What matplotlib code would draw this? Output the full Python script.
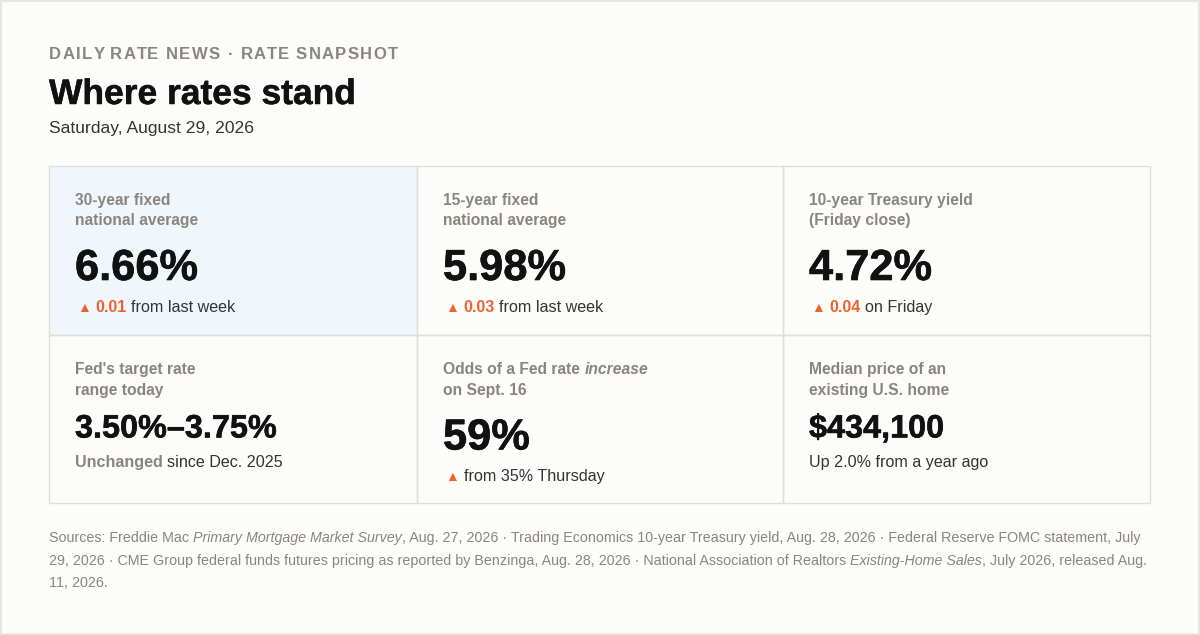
import matplotlib
matplotlib.use("Agg")
import matplotlib.pyplot as plt
from matplotlib.patches import Rectangle
import matplotlib.patheffects as pe

# ---------------- data ----------------
kicker = "DAILY RATE NEWS · RATE SNAPSHOT"
title = "Where rates stand"
date_str = "Saturday, August 29, 2026"

labels_line1 = ["30-year fixed", "15-year fixed", "10-year Treasury yield",
                "Fed's target rate", "Odds of a Fed rate |increase", "Median price of an"]
labels_line2 = ["national average", "national average", "(Friday close)",
                "range today", "on Sept. 16", "existing U.S. home"]
values = ["6.66%", "5.98%", "4.72%", "3.50%–3.75%", "59%", "$434,100"]
value_big = [True, True, True, False, True, False]
delta_arrow = [True, True, True, False, True, False]
delta_num = ["0.01", "0.03", "0.04", "Unchanged", "", ""]
delta_text = ["from last week", "from last week", "on Friday",
              "since Dec. 2025", "from 35% Thursday", "Up 2.0% from a year ago"]
highlight = [True, False, False, False, False, False]

sources_lines = [
    [("Sources: Freddie Mac ", "normal"), ("Primary Mortgage Market Survey", "italic"),
     (", Aug. 27, 2026 · Trading Economics 10-year Treasury yield, Aug. 28, 2026 · Federal Reserve FOMC statement, July", "normal")],
    [("29, 2026 · CME Group federal funds futures pricing as reported by Benzinga, Aug. 28, 2026 · National Association of Realtors ", "normal"),
     ("Existing-Home Sales", "italic"), (", July 2026, released Aug.", "normal")],
    [("11, 2026.", "normal")],
]

# ---------------- style ----------------
BG = "#fcfcfa"
GRID = "#dededb"
HL = "#f1f6fd"
GRAY = "#8a857e"
DARK = "#333333"
BLACK = "#111111"
ORANGE = "#ec6530"
FAM = ["Liberation Sans", "DejaVu Sans"]

W, H = 1200, 635
fig = plt.figure(figsize=(12, 6.35), dpi=100)
fig.patch.set_facecolor(BG)
ax = fig.add_axes([0, 0, 1, 1])
ax.set_xlim(0, W)
ax.set_ylim(H, 0)
ax.axis("off")
renderer = fig.canvas.get_renderer()


def twidth(s, **kw):
    kw = {k: v for k, v in kw.items() if k != "path_effects"}
    t = ax.text(0, 0, "|" + s + "|", family=FAM, **kw)
    w1 = t.get_window_extent(renderer).width
    t.remove()
    t = ax.text(0, 0, "||", family=FAM, **kw)
    w2 = t.get_window_extent(renderer).width
    t.remove()
    return w1 - w2


def draw(x, y, s, **kw):
    ax.text(x, y, s, family=FAM, va="baseline", ha="left", **kw)
    return x + twidth(s, **kw)


def px(p):
    return p * 0.72


def thick(color, w):
    return [pe.withStroke(linewidth=w, foreground=color)]

# outer border
ax.add_patch(Rectangle((0.5, 0.5), W - 1.5, H - 1.5, fill=False, ec="#e2e2de", lw=1.2))

# kicker, letter-spaced
kkw = dict(fontsize=px(16.6), fontweight="bold", color=GRAY)
natural = twidth(kicker, **kkw)
target = 349
spacing = (target - natural) / (len(kicker) - 1)
x0 = 49
for i, ch in enumerate(kicker):
    if ch != " ":
        ax.text(x0 + twidth(kicker[:i], **kkw) + i * spacing, 59, ch, family=FAM,
                va="baseline", ha="left", **kkw)

draw(49, 104, title, fontsize=px(35.4), fontweight="bold", color=BLACK,
     path_effects=thick(BLACK, 0.35))
draw(49, 132.5, date_str, fontsize=px(17.5), color=DARK)

# grid
gx = [49, 417, 783, 1150]
gy = [166, 335, 503]
for r in range(2):
    for c in range(3):
        k = r * 3 + c
        ax.add_patch(Rectangle((gx[c], gy[r]), gx[c + 1] - gx[c], gy[r + 1] - gy[r],
                               fc=HL if highlight[k] else "none", ec=GRID, lw=1.0, zorder=1))

for k in range(6):
    r, c = divmod(k, 3)
    x = gx[c] + 26
    top = gy[r]
    lkw = dict(fontsize=px(15.6), fontweight="bold", color=GRAY, zorder=3)
    parts = labels_line1[k].split("|")
    xx = x
    for j, p in enumerate(parts):
        st = "italic" if j == 1 else "normal"
        xx = draw(xx, top + 39, p, fontstyle=st, **lkw)
    draw(x, top + 59.5, labels_line2[k], **lkw)
    # value
    if value_big[k]:
        vy = top + 114 if r == 0 else top + 114.5
        draw(x, vy, values[k], fontsize=px(43.4), fontweight="bold", color=BLACK, zorder=3,
             path_effects=thick(BLACK, 0.45))
        dy = vy + 32
    else:
        vy = top + 102.5
        draw(x, vy, values[k], fontsize=px(32.4), fontweight="bold", color=BLACK, zorder=3,
             path_effects=thick(BLACK, 0.4))
        dy = vy + 29.5
    # delta line
    xx = x
    if delta_arrow[k]:
        ax.text(xx + 2, dy - 0.5, "▲", family=FAM, va="baseline", ha="left",
                fontsize=px(14), color=ORANGE, zorder=3)
        xx += 20.5
    dkw = dict(fontsize=px(16.1), zorder=3)
    if delta_num[k]:
        col = ORANGE if delta_arrow[k] else GRAY
        xx = draw(xx, dy, delta_num[k], fontweight="bold", color=col, **dkw)
        xx += twidth(" ", **dkw)
    draw(xx, dy, delta_text[k], color=DARK, **dkw)

# sources
skw = dict(fontsize=px(14.3), color=GRAY)
for i, line in enumerate(sources_lines):
    xx = 49
    y = 542 + i * 22.6
    for seg, st in line:
        xx = draw(xx, y, seg, fontstyle=st, **skw)

fig.savefig("out.png", dpi=100, facecolor=BG)
